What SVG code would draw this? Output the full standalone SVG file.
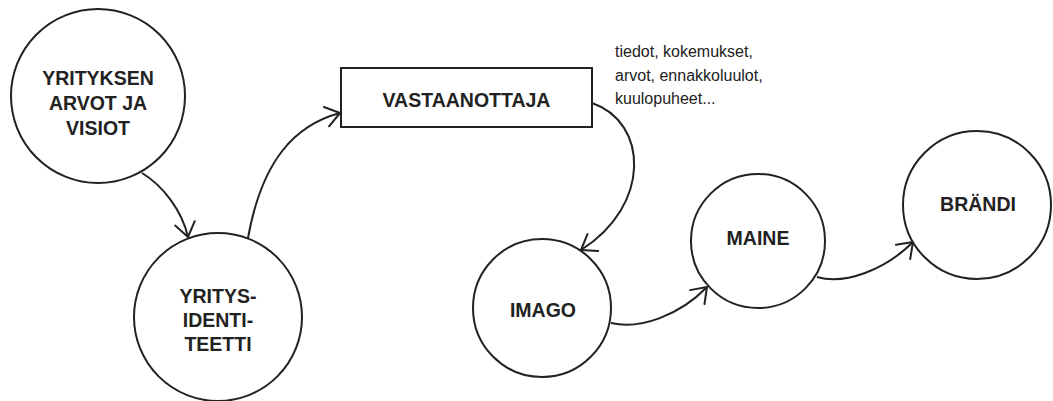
<svg xmlns="http://www.w3.org/2000/svg" width="1053" height="401" viewBox="0 0 1053 401">
<defs>
<style>
.node{fill:#fff;stroke:#222;stroke-width:2}
.lbl{font-family:"Liberation Sans",Arial,sans-serif;font-weight:bold;font-size:19.5px;fill:#222;text-anchor:middle}
.note{font-family:"Liberation Sans",Arial,sans-serif;font-size:16px;fill:#222}
.conn{fill:none;stroke:#222;stroke-width:2}
</style>
<marker id="arr" markerUnits="userSpaceOnUse" viewBox="-18 -13 20 26" markerWidth="20" markerHeight="26" refX="0" refY="0" orient="auto">
<path d="M-14,-10 L0,0 L-14,10" fill="none" stroke="#222" stroke-width="2" stroke-linecap="round" stroke-linejoin="round"/>
</marker>
</defs>
<rect width="1053" height="401" fill="#fff"/>
<g id="connectors">
<path class="conn" d="M142,173 C162,185 182,210 188,237" marker-end="url(#arr)"/>
<path class="conn" d="M248,238 C262,160 295,125 340,113" marker-end="url(#arr)"/>
<path class="conn" d="M592,103 C648,122 652,205 581,250" marker-end="url(#arr)"/>
<path class="conn" d="M611,323 C640,330 680,315 707,287" marker-end="url(#arr)"/>
<path class="conn" d="M817,277 C845,285 885,270 913,242" marker-end="url(#arr)"/>
</g>
<g id="yrityksen-arvot">
<circle class="node" cx="98" cy="96" r="87"/>
<text class="lbl" x="98" y="85">YRITYKSEN</text>
<text class="lbl" x="98" y="110">ARVOT JA</text>
<text class="lbl" x="98" y="135">VISIOT</text>
</g>
<g id="yritysidentiteetti">
<circle class="node" cx="218" cy="317" r="84"/>
<text class="lbl" x="218" y="303">YRITYS-</text>
<text class="lbl" x="218" y="327">IDENTI-</text>
<text class="lbl" x="218" y="351">TEETTI</text>
</g>
<g id="vastaanottaja">
<rect class="node" x="341" y="68" width="251" height="59"/>
<text class="lbl" x="466.5" y="107">VASTAANOTTAJA</text>
</g>
<g id="note">
<text class="note" x="615" y="57">tiedot, kokemukset,</text>
<text class="note" x="615" y="80.5">arvot, ennakkoluulot,</text>
<text class="note" x="615" y="104">kuulopuheet...</text>
</g>
<g id="imago">
<circle class="node" cx="542" cy="308" r="69"/>
<text class="lbl" x="543" y="317">IMAGO</text>
</g>
<g id="maine">
<circle class="node" cx="758" cy="241" r="67"/>
<text class="lbl" x="758" y="245">MAINE</text>
</g>
<g id="brandi">
<circle class="node" cx="977" cy="205" r="74"/>
<text class="lbl" x="978" y="211">BRÄNDI</text>
</g>
</svg>
